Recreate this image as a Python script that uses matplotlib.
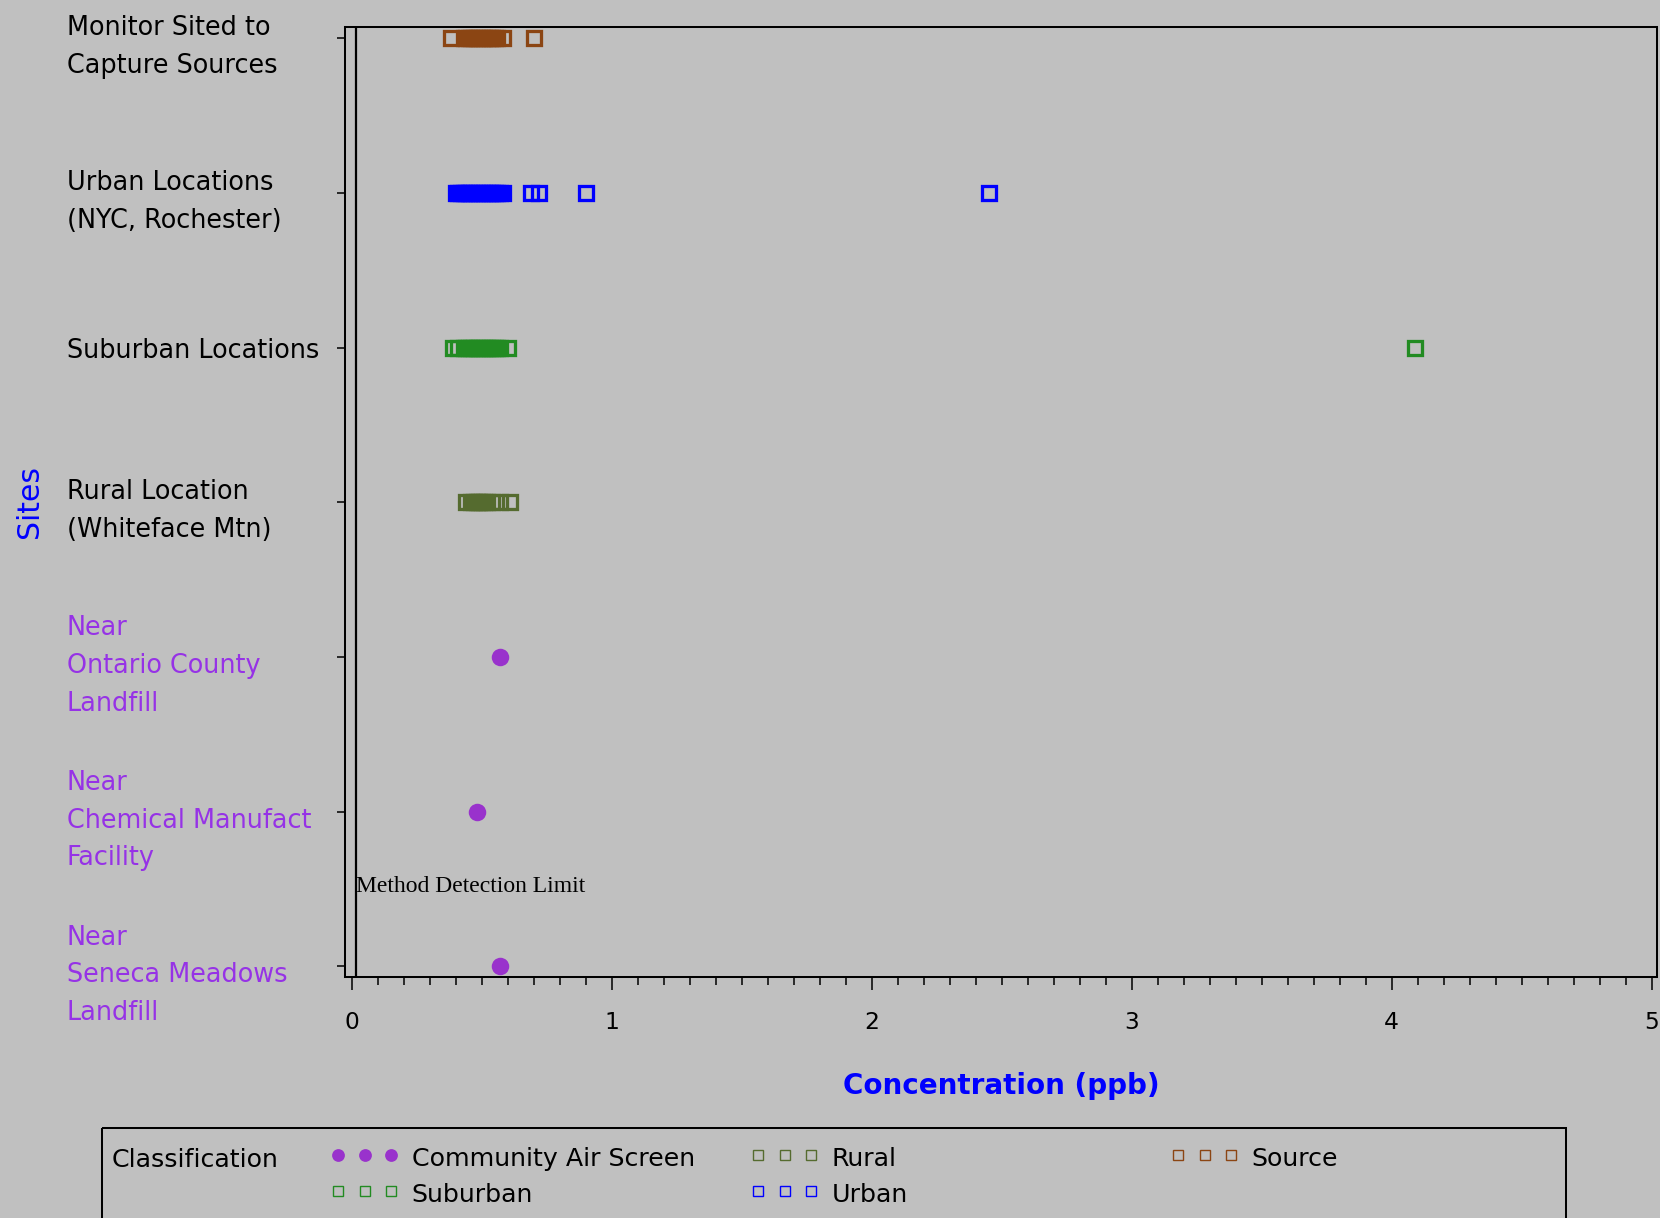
import matplotlib
matplotlib.use("Agg")
import matplotlib.pyplot as plt
from matplotlib.patches import Rectangle
from matplotlib.markers import MarkerStyle
from matplotlib.ticker import MultipleLocator

# ---------------- data ----------------
site_labels = [  # bottom to top
    "Near\nSeneca Meadows\nLandfill",
    "Near\nChemical Manufact\nFacility",
    "Near\nOntario County\nLandfill",
    "Rural Location\n(Whiteface Mtn)",
    "Suburban Locations",
    "Urban Locations\n(NYC, Rochester)",
    "Monitor Sited to\nCapture Sources",
]
label_colors = ["#9632E6", "#9632E6", "#9632E6", "black", "black", "black", "black"]

source_vals = [0.38, 0.43, 0.44, 0.45, 0.46, 0.47, 0.48, 0.49, 0.50, 0.51,
               0.52, 0.53, 0.54, 0.55, 0.56, 0.58, 0.70]
urban_vals = [0.40, 0.41, 0.42, 0.43, 0.44, 0.45, 0.46, 0.47, 0.48, 0.49,
              0.50, 0.51, 0.52, 0.53, 0.54, 0.55, 0.56, 0.57, 0.58,
              0.69, 0.72, 0.90, 2.45]
suburban_vals = [0.39, 0.41, 0.43, 0.44, 0.45, 0.46, 0.47, 0.48, 0.49, 0.50,
                 0.51, 0.52, 0.53, 0.54, 0.55, 0.56, 0.57, 0.60, 4.09]
rural_vals = [0.44, 0.46, 0.47, 0.48, 0.49, 0.50, 0.51, 0.52, 0.54, 0.57, 0.61]
community_sites = [0, 1, 2]
community_vals = [0.57, 0.48, 0.57]

mdl_value = 0.017
x_ticks = [0, 1, 2, 3, 4, 5]

classes = ["Community Air Screen", "Suburban", "Rural", "Urban", "Source"]
class_colors = {"Community Air Screen": "#9932CC", "Suburban": "#228B22",
                "Rural": "#556B2F", "Urban": "#0000FF", "Source": "#8B4513"}

# ---------------- figure ----------------
W, H, DPI = 1660, 1218, 100
BG = "#C0C0C0"
fig = plt.figure(figsize=(W / DPI, H / DPI), dpi=DPI, facecolor=BG)

ax_l, ax_r, ax_t, ax_b = 345, 1657, 26.7, 977.3
ax = fig.add_axes([ax_l / W, 1 - ax_b / H, (ax_r - ax_l) / W, (ax_b - ax_t) / H])
ax.set_facecolor(BG)
for s in ax.spines.values():
    s.set_linewidth(1.45)
    s.set_color("black")

square = MarkerStyle("s", joinstyle="miter")
sq = dict(linestyle="none", marker=square, markerfacecolor="none",
          markersize=9.9, markeredgewidth=2.35, antialiased=False, snap=True)
ax.plot(source_vals, [6] * len(source_vals), markeredgecolor=class_colors["Source"], **sq)
ax.plot(urban_vals, [5] * len(urban_vals), markeredgecolor=class_colors["Urban"], **sq)
ax.plot(suburban_vals, [4] * len(suburban_vals), markeredgecolor=class_colors["Suburban"], **sq)
ax.plot(rural_vals, [3] * len(rural_vals), markeredgecolor=class_colors["Rural"], **sq)
ax.plot(community_vals, community_sites, linestyle="none", marker="o",
        markersize=12.6, markerfacecolor=class_colors["Community Air Screen"],
        markeredgecolor="none")

ax.axvline(mdl_value, color="black", linewidth=1.6)
ax.text(mdl_value, 0.48, "Method Detection Limit", family="Liberation Serif",
        fontsize=17, color="black", ha="left", va="baseline")

ax.set_xlim(-0.026, 5.02)
ax.set_ylim(-0.07, 6.075)

ax.set_xticks(x_ticks)
ax.set_xticklabels([str(t) for t in x_ticks])
ax.xaxis.set_minor_locator(MultipleLocator(0.1))
ax.tick_params(axis="x", which="major", length=9.1, width=1.1, direction="out",
               labelsize=16.8, pad=15.5, colors="black")
ax.tick_params(axis="x", which="minor", length=5.5, width=1.1, direction="out")

ax.set_yticks(range(len(site_labels)))
ax.set_yticklabels(site_labels)
ax.tick_params(axis="y", which="major", length=5.8, width=1.1, direction="out",
               labelsize=18.4, pad=194.5)
for lab, c in zip(ax.get_yticklabels(), label_colors):
    lab.set_ha("left")
    lab.set_color(c)
    lab.set_linespacing(1.59)

ax.set_xlabel("Concentration (ppb)", fontsize=20, fontweight="bold", color="#0000FF")
ax.xaxis.set_label_coords(0.5, -0.1228)
ax.xaxis.label.set_va("baseline")

ax.set_ylabel("Sites", fontsize=21.5, color="#0000FF")
ax.yaxis.set_label_coords(-0.2405, 0.5)
ax.yaxis.label.set_va("center")

# ---------------- legend (drawn in pixel space) ----------------
lg = fig.add_axes([0, 0, 1, 1], facecolor="none")
lg.set_xlim(0, W)
lg.set_ylim(H, 0)
lg.axis("off")
lg.add_patch(Rectangle((101.7, 1128.3), 1566 - 101.7, 200, fill=False,
                       edgecolor="black", linewidth=1.45, clip_on=True))
lg.text(112, 1160, "Classification", fontsize=18.2, ha="left", va="center")

col_x = {"Community Air Screen": 338, "Suburban": 338, "Rural": 758,
         "Urban": 758, "Source": 1178}
row_y = {"Community Air Screen": 1154.5, "Rural": 1154.5, "Source": 1154.5,
         "Suburban": 1191, "Urban": 1191}
for name in classes:
    x0, y0 = col_x[name], row_y[name]
    xs = [x0, x0 + 26.7, x0 + 53.4]
    if name == "Community Air Screen":
        lg.plot(xs, [y0] * 3, linestyle="none", marker="o", markersize=9.2,
                markerfacecolor=class_colors[name], markeredgecolor="none")
    else:
        lg.plot(xs, [y0] * 3, linestyle="none", marker=square, markersize=7.9,
                markerfacecolor="none", markeredgecolor=class_colors[name],
                markeredgewidth=1.0)
    lg.text(x0 + 73.5, y0 + 4.5, name, fontsize=18.2, ha="left", va="center")

fig.savefig("out.png", dpi=DPI, facecolor=BG)
